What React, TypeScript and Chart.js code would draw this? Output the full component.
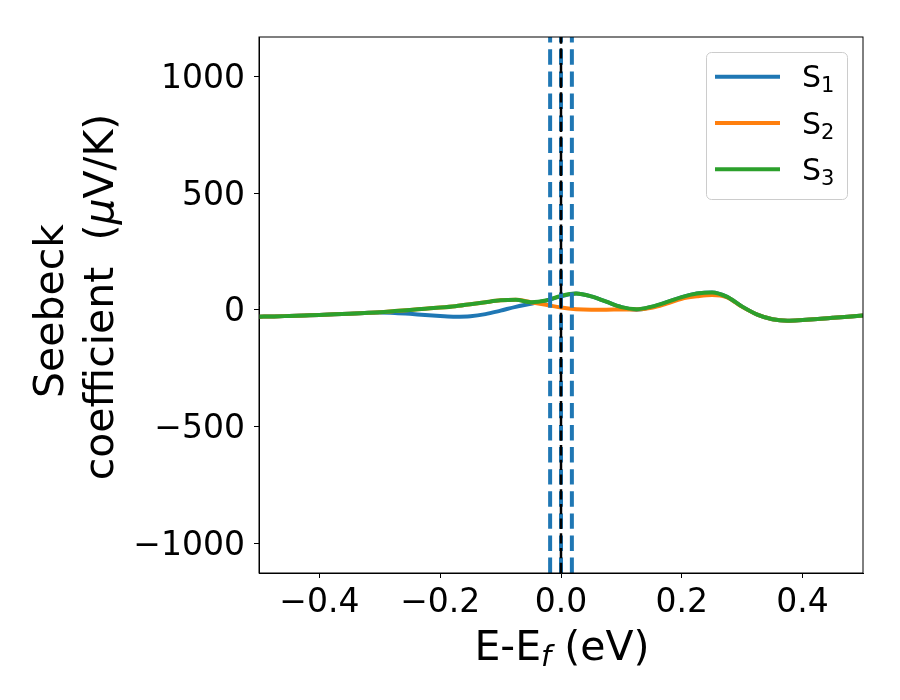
import React, { useEffect, useRef } from 'react';
import { Chart, registerables } from 'chart.js';

Chart.register(...registerables);
Chart.defaults.font.family = '"DejaVu Sans", sans-serif';

// energy grid, eV
const energy = [
  -0.5, -0.475, -0.45, -0.425, -0.4, -0.375, -0.35, -0.325, -0.3, -0.275,
  -0.25, -0.225, -0.2, -0.175, -0.15, -0.125, -0.1, -0.075, -0.05, -0.025,
  0, 0.025, 0.05, 0.075, 0.1, 0.125, 0.15, 0.175, 0.2, 0.225,
  0.25, 0.275, 0.3, 0.325, 0.35, 0.375, 0.4, 0.425, 0.45, 0.475, 0.5,
];

// Seebeck coefficient, uV/K
const s1 = [
  -29, -28, -26, -24, -22, -19, -16, -13, -11, -13,
  -17, -22, -26, -29, -27, -18, -3, 13, 26, 40,
  58, 70, 58, 35, 12, 1, 13, 33, 55, 70,
  75, 56, 14, -20, -40, -46, -43, -39, -34, -29, -24,
];
const s2 = [
  -29, -28, -26, -24, -22, -19, -16, -13, -10, -5,
  0, 5, 10, 16, 24, 33, 41, 43, 33, 22,
  10, 3, 1, 1, 2, 2, 9, 27, 48, 58,
  64, 54, 13, -20, -40, -46, -43, -39, -34, -29, -24,
];
const s3 = [
  -29, -28, -26, -24, -22, -19, -16, -13, -10, -5,
  0, 5, 10, 16, 24, 33, 41, 43, 33, 40,
  60, 70, 58, 35, 12, 3, 14, 33, 55, 70,
  75, 56, 14, -20, -40, -46, -43, -39, -34, -29, -24,
];

const seriesNames = ['1', '2', '3'];
const seriesColors = ['#1f77b4', '#ff7f0e', '#2ca02c'];

// vertical markers around the Fermi level
const fermiLines = [-0.018, 0, 0.018];

const xTicks = [-0.4, -0.2, 0, 0.2, 0.4];
const yTicks = [-1000, -500, 0, 500, 1000];
const yMin = -1128;
const yMax = 1170;

const minus = (v: number, digits: number) =>
  (v < 0 ? '\u2212' : '') + Math.abs(v).toFixed(digits);

const font = (size: number, italic = false) =>
  `${italic ? 'italic ' : ''}${size}px "DejaVu Sans"`;

// draws a list of text runs [text, size, italic, baselineShift] centred at 0
const drawRuns = (ctx: CanvasRenderingContext2D, runs: [string, number, boolean, number][]) => {
  let total = 0;
  runs.forEach(([t, s, it]) => {
    ctx.font = font(s, it);
    total += ctx.measureText(t).width;
  });
  let x = -total / 2;
  runs.forEach(([t, s, it, dy]) => {
    ctx.font = font(s, it);
    ctx.fillText(t, x, dy);
    x += ctx.measureText(t).width;
  });
};

const decorations = {
  id: 'decorations',
  afterDraw(chart: any) {
    const { ctx, chartArea } = chart;
    ctx.save();
    // frame
    ctx.strokeStyle = '#000';
    ctx.lineWidth = 1;
    ctx.strokeRect(chartArea.left, chartArea.top, chartArea.right - chartArea.left, chartArea.bottom - chartArea.top);

    ctx.fillStyle = '#000';
    ctx.textAlign = 'left';
    ctx.textBaseline = 'alphabetic';

    // x title
    ctx.save();
    ctx.translate((chartArea.left + chartArea.right) / 2 + 1, 660);
    drawRuns(ctx, [['E-E', 41, false, 0], ['f', 29, true, 6], [' (eV)', 41, false, 0]]);
    ctx.restore();

    // y title, two lines
    ctx.save();
    ctx.translate(63, 311);
    ctx.rotate(-Math.PI / 2);
    drawRuns(ctx, [['Seebeck', 41, false, 0]]);
    ctx.restore();
    ctx.save();
    ctx.translate(113, 297);
    ctx.rotate(-Math.PI / 2);
    drawRuns(ctx, [['coefficient  (', 41, false, 0], ['\u03bc', 41, true, 0], ['V/K)', 41, false, 0]]);
    ctx.restore();

    // legend
    ctx.fillStyle = 'rgba(255,255,255,0.8)';
    ctx.strokeStyle = '#cccccc';
    ctx.beginPath();
    ctx.roundRect(706.5, 52.5, 141, 147, 5);
    ctx.fill();
    ctx.stroke();
    seriesNames.forEach((n, i) => {
      const y = 76.7 + i * 46.3;
      ctx.strokeStyle = seriesColors[i];
      ctx.lineWidth = 4;
      ctx.beginPath();
      ctx.moveTo(715, y);
      ctx.lineTo(780, y);
      ctx.stroke();
      ctx.fillStyle = '#000';
      ctx.font = font(30);
      ctx.fillText('S', 802, y + 10.6);
      const w = ctx.measureText('S').width;
      ctx.font = font(21);
      ctx.fillText(n, 802 + w, y + 15.6);
    });
    ctx.restore();
  },
};

const App = () => {
  const canvasRef = useRef<HTMLCanvasElement>(null);

  useEffect(() => {
    if (!canvasRef.current) return;

    const curves = [s1, s2, s3].map((vals, i) => ({
      label: 'S' + seriesNames[i],
      data: energy.map((e, j) => ({ x: e, y: vals[j] })),
      borderColor: seriesColors[i],
      borderWidth: 4,
      pointRadius: 0,
      cubicInterpolationMode: 'monotone' as const,
      order: 4 - i,
    }));

    const markers = fermiLines.map((e) => ({
      label: 'fermi',
      data: [{ x: e, y: yMin }, { x: e, y: yMax }],
      borderColor: '#1f77b4',
      borderWidth: 4,
      borderDash: [15.4, 6.7],
      pointRadius: 0,
      order: 1,
    }));

    const zeroLine = {
      label: 'zero',
      data: [{ x: 0, y: yMin }, { x: 0, y: yMax }],
      borderColor: '#000',
      borderWidth: 2.5,
      borderDash: [10.3, 4.4],
      pointRadius: 0,
      order: 0,
    };

    const chart = new Chart(canvasRef.current, {
      type: 'line',
      data: { datasets: [...curves, ...markers, zeroLine] as any },
      options: {
        animation: false,
        responsive: false,
        devicePixelRatio: 1,
        layout: { padding: { top: 37, right: 37, left: 0, bottom: 0 } },
        plugins: { legend: { display: false }, tooltip: { enabled: false } },
        scales: {
          x: {
            type: 'linear',
            min: -0.5,
            max: 0.5,
            afterBuildTicks: (s: any) => { s.ticks = xTicks.map((v) => ({ value: v })); },
            afterFit: (s: any) => { s.height = 127; },
            ticks: {
              color: '#000',
              font: { size: 33 },
              padding: 6,
              autoSkip: false,
              maxRotation: 0,
              callback: (v: any) => minus(Number(v), 1),
            },
            grid: { drawOnChartArea: false, drawTicks: true, tickLength: 5, tickColor: '#000', tickWidth: 1 },
            border: { display: true, color: '#000', width: 1 },
          },
          y: {
            type: 'linear',
            min: yMin,
            max: yMax,
            afterBuildTicks: (s: any) => { s.ticks = yTicks.map((v) => ({ value: v })); },
            afterFit: (s: any) => { s.width = 259; },
            ticks: {
              color: '#000',
              font: { size: 33 },
              padding: 9,
              labelOffset: 3,
              autoSkip: false,
              callback: (v: any) => minus(Number(v), 0),
            },
            grid: { drawOnChartArea: false, drawTicks: true, tickLength: 5, tickColor: '#000', tickWidth: 1 },
            border: { display: true, color: '#000', width: 1 },
          },
        },
      },
      plugins: [decorations],
    });

    return () => {
      chart.destroy();
    };
  }, []);

  return (
    <div style={{ position: 'fixed', left: 0, top: 0, width: 900, height: 700, background: '#fff' }}>
      <canvas ref={canvasRef} width={900} height={700} />
    </div>
  );
};

export default App;
